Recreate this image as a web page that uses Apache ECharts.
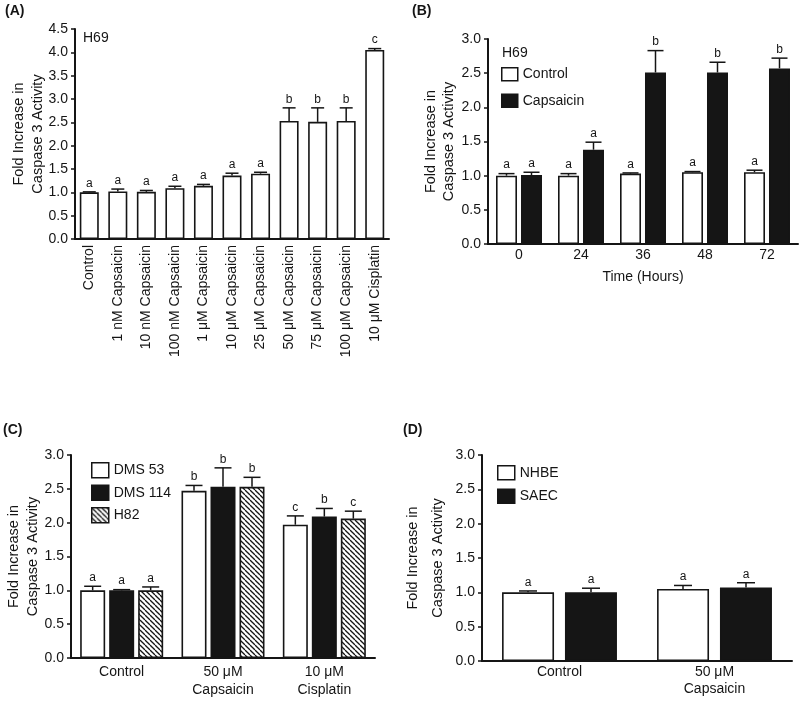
<!DOCTYPE html>
<html>
<head>
<meta charset="utf-8">
<script src="https://cdn.jsdelivr.net/npm/echarts@6/dist/echarts.min.js"></script>
<style>
  html, body { margin: 0; padding: 0; background: #fff; }
  #main { width: 800px; height: 714px; }
</style>
</head>
<body>
<div id="main"></div>
<script>
// (A) H69 dose response
const catsA = ['Control', '1 nM Capsaicin', '10 nM Capsaicin', '100 nM Capsaicin', '1 μM Capsaicin',
  '10 μM Capsaicin', '25 μM Capsaicin', '50 μM Capsaicin', '75 μM Capsaicin', '100 μM Capsaicin', '10 μM Cisplatin']
const valA = [1.00, 1.02, 1.01, 1.09, 1.14, 1.36, 1.40, 2.53, 2.51, 2.53, 4.05]
const errA = [0.01, 0.05, 0.03, 0.04, 0.03, 0.05, 0.03, 0.28, 0.30, 0.28, 0.03]
const letA = ['a', 'a', 'a', 'a', 'a', 'a', 'a', 'b', 'b', 'b', 'c']

// (B) H69 time course
const catsB = ['0', '24', '36', '48', '72']
const ctrlB = [1.00, 1.00, 1.03, 1.05, 1.05]
const ctrlErrB = [0.03, 0.03, 0.01, 0.01, 0.03]
const ctrlLetB = ['a', 'a', 'a', 'a', 'a']
const capsB = [1.01, 1.38, 2.51, 2.51, 2.57]
const capsErrB = [0.04, 0.11, 0.32, 0.15, 0.15]
const capsLetB = ['a', 'a', 'b', 'b', 'b']

// (C) other SCLC lines
const catsC = ['Control', '50 μM\nCapsaicin', '10 μM\nCisplatin']
const dms53 = [1.00, 2.47, 1.97]
const dms53Err = [0.06, 0.08, 0.13]
const dms53Let = ['a', 'b', 'c']
const dms114 = [1.00, 2.53, 2.09]
const dms114Err = [0.01, 0.28, 0.12]
const dms114Let = ['a', 'b', 'b']
const h82 = [1.00, 2.53, 2.06]
const h82Err = [0.05, 0.14, 0.11]
const h82Let = ['a', 'b', 'c']

// (D) normal cells
const catsD = ['Control', '50 μM\nCapsaicin']
const nhbe = [1.00, 1.05]
const nhbeErr = [0.02, 0.05]
const nhbeLet = ['a', 'a']
const saec = [1.00, 1.07]
const saecErr = [0.06, 0.07]
const saecLet = ['a', 'a']

const yTicks = { A: 4.5, other: 3.0 }

const FONT = 'Liberation Sans'
const INK = '#151515'

// hatch fill for H82
let hc = document.createElement('canvas')
hc.width = 5
hc.height = 5
let hx = hc.getContext('2d')
hx.fillStyle = '#fff'
hx.fillRect(0, 0, 5, 5)
hx.strokeStyle = INK
hx.lineWidth = 1.3
for (let k = -5; k <= 5; k += 5) {
  hx.beginPath()
  hx.moveTo(k, 0)
  hx.lineTo(k + 5, 5)
  hx.stroke()
}
const hatch = { image: hc, repeat: 'repeat' }

const white = { color: '#fff', borderColor: INK, borderWidth: 1.6 }
const black = { color: INK, borderColor: INK, borderWidth: 1.6 }
const striped = { color: hatch, borderColor: INK, borderWidth: 1.6 }

function barSeries(name, g, vals, style, width, gap) {
  return {
    name: name, type: 'bar', xAxisIndex: g, yAxisIndex: g,
    data: vals, barWidth: width, barGap: gap, itemStyle: style,
    emphasis: { disabled: true }
  }
}

// error bar + letter, offset = shift of this bar from the category centre
function errSeries(g, vals, errs, lets, offset, capW) {
  return {
    type: 'custom', xAxisIndex: g, yAxisIndex: g, z: 5, silent: true,
    encode: { x: 0, y: 1 },
    data: vals.map(function (v, i) { return [i, v, errs[i]] }),
    renderItem: function (params, api) {
      let i = api.value(0)
      let v = api.value(1)
      let e = api.value(2)
      let p0 = api.coord([i, v])
      let p1 = api.coord([i, v + e])
      let x = p0[0] + offset
      return {
        type: 'group',
        children: [
          { type: 'line', shape: { x1: x, y1: p0[1], x2: x, y2: p1[1] }, style: { stroke: INK, lineWidth: 1.5 } },
          { type: 'line', shape: { x1: x - capW / 2, y1: p1[1], x2: x + capW / 2, y2: p1[1] }, style: { stroke: INK, lineWidth: 1.5 } },
          { type: 'text', x: x, y: p1[1] - 2.5,
            style: { text: lets[params.dataIndex], fill: INK, font: '12px "' + FONT + '"', align: 'center', verticalAlign: 'bottom' } }
        ]
      }
    }
  }
}

function yAxis(g, max, gap, lh) {
  return {
    gridIndex: g, type: 'value', min: 0, max: max, interval: 0.5,
    name: 'Fold Increase in\nCaspase 3 Activity',
    nameLocation: 'middle', nameRotate: 90, nameGap: gap, nameMoveOverlap: false,
    nameTextStyle: { fontSize: 14.5, lineHeight: lh, color: INK, fontFamily: FONT },
    axisLine: { show: true, lineStyle: { color: INK, width: 2 } },
    axisTick: { show: true, length: 4, lineStyle: { color: INK, width: 1.5 } },
    axisLabel: { fontSize: 14, margin: 7, color: INK, fontFamily: FONT,
      formatter: function (v) { return v.toFixed(1) } },
    splitLine: { show: false }
  }
}

function xAxis(g, cats, label) {
  return Object.assign({
    gridIndex: g, type: 'category', data: cats,
    axisLine: { show: true, lineStyle: { color: INK, width: 2 } },
    axisTick: { show: false },
    splitLine: { show: false }
  }, label)
}

function legend(names, left, top, w, h, gap) {
  return {
    data: names, orient: 'vertical', left: left, top: top, padding: 0,
    itemWidth: w, itemHeight: h, itemGap: gap, icon: 'rect',
    selectedMode: false,
    itemStyle: { borderColor: INK, borderWidth: 1.5 },
    textStyle: { fontSize: 14, color: INK, fontFamily: FONT }
  }
}

function txt(s, x, y, bold) {
  return {
    type: 'text', left: x, top: y,
    style: { text: s, fill: INK, font: (bold ? 'bold ' : '') + '14px "' + FONT + '"' }
  }
}

const chart = echarts.init(document.getElementById('main'))

chart.setOption({
  animation: false,
  textStyle: { fontFamily: FONT, color: INK },
  grid: [
    { left: 75, top: 29, right: 411, bottom: 475 },
    { left: 488, top: 39, right: 2, bottom: 470 },
    { left: 71, top: 455, right: 425, bottom: 56 },
    { left: 482, top: 455, right: 8, bottom: 53 }
  ],
  xAxis: [
    xAxis(0, catsA, { axisLabel: { rotate: 90, interval: 0, fontSize: 14, margin: 6, color: INK, fontFamily: FONT } }),
    xAxis(1, catsB, {
      axisLabel: { fontSize: 14, margin: 3, lineHeight: 16, color: INK, fontFamily: FONT },
      name: 'Time (Hours)', nameLocation: 'middle', nameGap: 26,
      nameTextStyle: { fontSize: 14, color: INK, fontFamily: FONT }
    }),
    xAxis(2, catsC, { axisLabel: { interval: 0, fontSize: 14, margin: 5, lineHeight: 18, color: INK, fontFamily: FONT } }),
    xAxis(3, catsD, { axisLabel: { interval: 0, fontSize: 14, margin: 3, lineHeight: 17, color: INK, fontFamily: FONT } })
  ],
  yAxis: [
    yAxis(0, yTicks.A, 28, 19),
    yAxis(1, yTicks.other, 30, 18),
    yAxis(2, yTicks.other, 29, 19),
    yAxis(3, yTicks.other, 32, 25)
  ],
  legend: [
    legend(['Control', 'Capsaicin'], 501, 67, 16, 13, 12),
    legend(['DMS 53', 'DMS 114', 'H82'], 91, 462, 17, 15, 6),
    legend(['NHBE', 'SAEC'], 497, 465, 17, 14, 8)
  ],
  graphic: [
    txt('(A)', 5, 4, true),
    txt('(B)', 412, 4, true),
    txt('(C)', 3, 423, true),
    txt('(D)', 403, 423, true),
    txt('H69', 83, 31, false),
    txt('H69', 502, 46, false)
  ],
  series: [
    barSeries('H69', 0, valA, white, 19, '0%'),
    errSeries(0, valA, errA, letA, 0, 13),

    barSeries('Control', 1, ctrlB, white, 21, '19%'),
    barSeries('Capsaicin', 1, capsB, black, 21, '19%'),
    errSeries(1, ctrlB, ctrlErrB, ctrlLetB, -12.5, 16),
    errSeries(1, capsB, capsErrB, capsLetB, 12.5, 16),

    barSeries('DMS 53', 2, dms53, white, 25, '16%'),
    barSeries('DMS 114', 2, dms114, black, 25, '16%'),
    barSeries('H82', 2, h82, striped, 25, '16%'),
    errSeries(2, dms53, dms53Err, dms53Let, -29, 17),
    errSeries(2, dms114, dms114Err, dms114Let, 0, 17),
    errSeries(2, h82, h82Err, h82Let, 29, 17),

    barSeries('NHBE', 3, nhbe, white, 52, '21%'),
    barSeries('SAEC', 3, saec, black, 52, '21%'),
    errSeries(3, nhbe, nhbeErr, nhbeLet, -31.5, 18),
    errSeries(3, saec, saecErr, saecLet, 31.5, 18)
  ]
})
</script>
</body>
</html>
